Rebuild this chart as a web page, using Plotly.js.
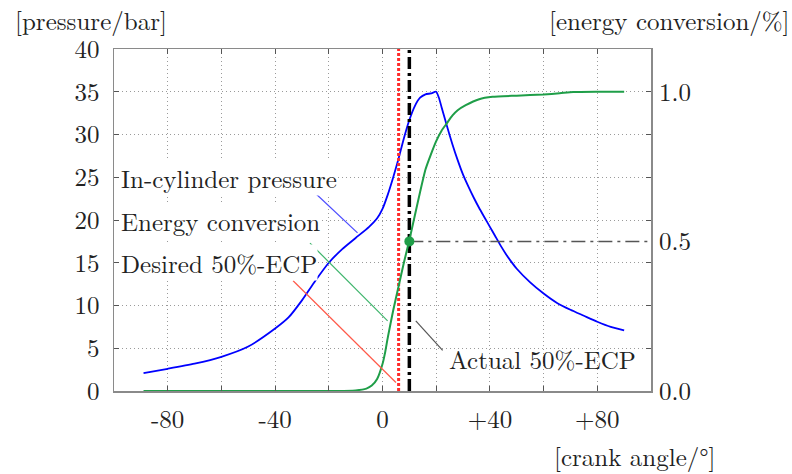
<!DOCTYPE html>
<html>
<head>
<meta charset="utf-8">
<script src="https://cdn.plot.ly/plotly-3.0.1.min.js"></script>
<style>html,body{margin:0;padding:0;background:#fff;}#chart{width:792px;height:474px;}</style>
</head>
<body>
<div id="chart"></div>
<script>
// crank angle (deg) and in-cylinder pressure (bar)
var pressureAngle = [-89,-80,-70,-60,-50,-40,-35,-30,-25,-20,-15,-10,-5,-2,0,2,4,6,8,10,12,14,16,18,20,21,22,24,26,28,30,32,34,36,38,40,42,44,46,48,50,55,60,65,70,75,80,85,90];
var pressure      = [2.1,2.6,3.2,4.0,5.2,7.3,8.6,10.6,12.9,15.0,16.6,17.9,19.2,20.2,21.3,23.0,25.0,27.2,29.6,31.7,33.3,34.3,34.7,34.8,35.0,34.3,33.2,31.0,28.9,27.0,25.3,23.9,22.6,21.4,20.3,19.2,18.1,17.0,16.0,15.1,14.3,12.7,11.4,10.3,9.5,8.8,8.1,7.5,7.1];
// crank angle (deg) and energy conversion (fraction)
var energyAngle = [-89,-60,-20,-10,-6,-4,-2,0,1,2,4,6,8,10,12,14,16,18,20,22,24,26,28,31,36,41,50,60,66,71,80,90];
var energy      = [0,0,0,0.002,0.008,0.018,0.04,0.09,0.13,0.18,0.27,0.35,0.43,0.504,0.585,0.665,0.74,0.79,0.835,0.87,0.895,0.92,0.938,0.955,0.975,0.983,0.987,0.991,0.995,0.999,1.0,1.0];
// 50% energy conversion points
var desiredECP = 6;
var actualECP = 10;
var ecpLevel = 0.5;
// axis ticks
var xTickVals = [-80,-60,-40,-20,0,20,40,60,80];
var xTickText = ['-80','','-40','','0','','+40','','+80'];
var yTickVals = [0,5,10,15,20,25,30,35,40];
var y2TickVals = [0,0.5,1];
var y2TickText = ['0.0','0.5','1.0'];

var FONT = "'Latin Modern Roman', 'Liberation Serif', serif";
var TXT = '#222';
var FS = 25;
var GREEN = '#1f9e48';

var traces = [
  {x: pressureAngle, y: pressure, type:'scatter', mode:'lines', line:{color:'#0000ff', width:1.8, shape:'spline', smoothing:0.6}, yaxis:'y', hoverinfo:'skip'},
  {x: energyAngle, y: energy, type:'scatter', mode:'lines', line:{color:GREEN, width:2, shape:'spline', smoothing:0.5}, yaxis:'y2', hoverinfo:'skip'},
  {x: [desiredECP, desiredECP], y:[0,40], type:'scatter', mode:'lines', line:{color:'#ff2a2a', width:3, dash:'3px,2px'}, yaxis:'y', hoverinfo:'skip'},
  {x: [actualECP, actualECP], y:[0,40], type:'scatter', mode:'lines', line:{color:'#000', width:3.5, dash:'12px,4px,3px,4px'}, yaxis:'y', hoverinfo:'skip'},
  {x: [actualECP, 100], y:[ecpLevel, ecpLevel], type:'scatter', mode:'lines', line:{color:'#555', width:1.5, dash:'14px,5px,3px,5px'}, yaxis:'y2', hoverinfo:'skip'},
  {x: [actualECP], y:[ecpLevel], type:'scatter', mode:'markers', marker:{color:GREEN, size:10}, yaxis:'y2', hoverinfo:'skip'}
];

var axisCommon = {
  showline:true, linecolor:'#8a8a8a', linewidth:1.5, mirror:'ticks',
  ticks:'inside', ticklen:5, tickcolor:'#555', tickwidth:1,
  showgrid:true, gridcolor:'#9a9a9a', gridwidth:1, griddash:'1px,3px',
  zeroline:false, tickfont:{family:FONT, size:FS, color:TXT}, fixedrange:true
};

function ann(text, x, y, opts){
  return Object.assign({text:text, x:x, y:y, xref:'x', yref:'y', showarrow:false,
    font:{family:FONT, size:FS, color:TXT}, xanchor:'left', yanchor:'middle'}, opts||{});
}

var layout = {
  width:792, height:474,
  margin:{l:114, r:141, t:49, b:83},
  paper_bgcolor:'#fff', plot_bgcolor:'#fff',
  showlegend:false,
  xaxis: Object.assign({}, axisCommon, {range:[-100,100], tickvals:xTickVals, ticktext:xTickText, ticklabelstandoff:5}),
  yaxis: Object.assign({}, axisCommon, {range:[0,40], tickvals:yTickVals, ticklabelstandoff:8}),
  yaxis2: {overlaying:'y', side:'right', range:[0, 40/35], tickvals:y2TickVals, ticktext:y2TickText,
    showgrid:false, zeroline:false, showline:false, ticks:'', tickfont:{family:FONT, size:FS, color:TXT}, ticklabelstandoff:7, fixedrange:true},
  shapes: [
    {type:'line', xref:'x', yref:'y', x0:-27.3, y0:23.8, x1:-9.3, y1:18.5, line:{color:'#4d4dff', width:1.2}},
    {type:'line', xref:'x', yref:'y', x0:-27.0, y0:17.29, x1:1.9, y1:8.2, line:{color:'#3cb46a', width:1.2}},
    {type:'line', xref:'x', yref:'y', x0:-33.3, y0:12.9, x1:5.0, y1:1.0, line:{color:'#ff5a4a', width:1.2}},
    {type:'line', xref:'x', yref:'y', x0:12.4, y0:8.2, x1:22.4, y1:4.75, line:{color:'#555', width:1.2}}
  ],
  annotations: [
    ann('In-cylinder pressure', -97.6, 25, {bgcolor:'#fff', borderpad:0}),
    ann('Energy conversion', -97.6, 20, {bgcolor:'#fff', borderpad:0}),
    ann('Desired 50%-ECP', -97.6, 15, {bgcolor:'#fff', borderpad:0}),
    ann('Actual 50%-ECP', 24.0, 3.85, {}),
    {text:'[pressure/bar]', xref:'paper', yref:'paper', x:-0.188, y:1.085, xanchor:'left', yanchor:'middle', showarrow:false, font:{family:FONT, size:FS, color:TXT}},
    {text:'[energy conversion/%]', xref:'paper', yref:'paper', x:1.262, y:1.085, xanchor:'right', yanchor:'middle', showarrow:false, font:{family:FONT, size:FS, color:TXT}},
    {text:'[crank angle/°]', xref:'paper', yref:'paper', x:1.1247, y:-0.188, xanchor:'right', yanchor:'middle', showarrow:false, font:{family:FONT, size:FS, color:TXT}}
  ]
};

Plotly.newPlot('chart', traces, layout, {staticPlot:true, displayModeBar:false});
</script>
</body>
</html>
